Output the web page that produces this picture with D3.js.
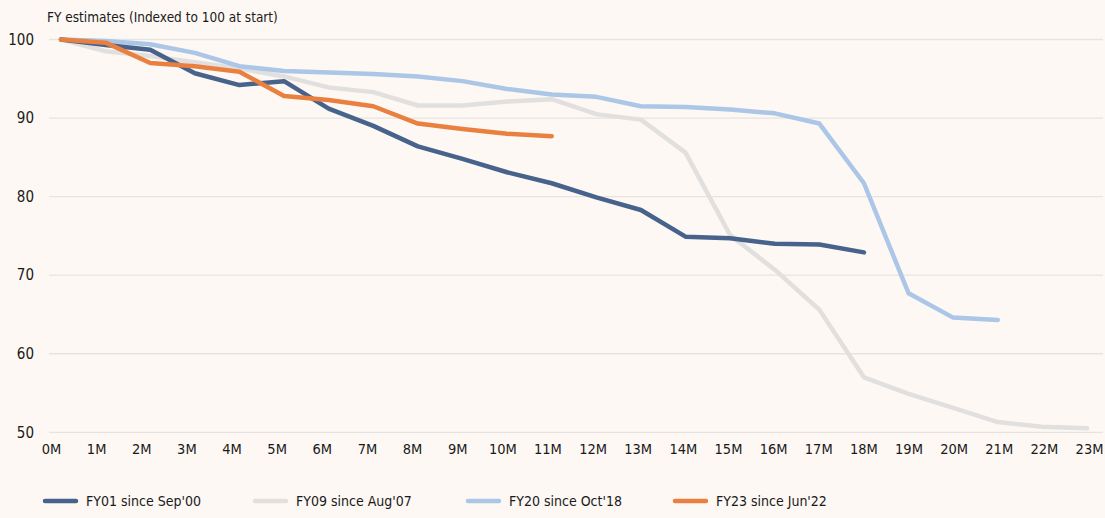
<!DOCTYPE html>
<html>
<head>
<meta charset="utf-8">
<script src="https://cdn.jsdelivr.net/npm/d3@7"></script>
<style>
  body { margin: 0; background: #fdf8f4; }
  #chart text { font-family: "DejaVu Sans Condensed", "Liberation Sans Narrow", sans-serif; fill: #1a1a1a; }
</style>
</head>
<body>
<div id="chart"></div>
<script>
// months since start
const months = d3.range(0, 24).map((m) => m + "M");
const yTicks = [50, 60, 70, 80, 90, 100];

// FY estimates, indexed to 100 at start
const fy01 = [100, 99.3, 98.7, 95.7, 94.2, 94.7, 91.2, 89.0, 86.4, 84.8, 83.1, 81.7, 79.9, 78.3, 74.9, 74.7, 74.0, 73.9, 72.9];
const fy09 = [100, 98.5, 97.9, 97.1, 96.3, 95.3, 93.9, 93.3, 91.6, 91.6, 92.1, 92.4, 90.5, 89.8, 85.6, 75.1, 70.7, 65.6, 57.0, 54.9, 53.1, 51.3, 50.7, 50.5];
const fy20 = [100, 99.8, 99.4, 98.3, 96.6, 96.0, 95.8, 95.6, 95.3, 94.7, 93.7, 93.0, 92.7, 91.5, 91.4, 91.1, 90.6, 89.3, 81.7, 67.7, 64.6, 64.3];
const fy23 = [100, 99.6, 97.0, 96.6, 95.9, 92.8, 92.3, 91.5, 89.3, 88.6, 88.0, 87.7];

const seriesNames = ["FY01 since Sep'00", "FY09 since Aug'07", "FY20 since Oct'18", "FY23 since Jun'22"];
const seriesColors = ["#47628b", "#e1e0df", "#abc6e7", "#ea8040"];

const width = 1105, height = 518;

const svg = d3.select("#chart").append("svg")
  .attr("width", width)
  .attr("height", height);

svg.append("rect").attr("width", width).attr("height", height).attr("fill", "#fdf8f4");

const x = d3.scalePoint().domain(months).range([61, 1087]);
// labels sit on a slightly wider spread than the points
const xLabel = d3.scalePoint().domain(months).range([51, 1089]);
const y = d3.scaleLinear().domain([50, 100]).range([432.3, 39.5]);

// gridlines
svg.append("g")
  .selectAll("line")
  .data(yTicks)
  .join("line")
  .attr("x1", 49)
  .attr("x2", 1103)
  .attr("y1", (d) => y(d))
  .attr("y2", (d) => y(d))
  .attr("stroke", "#e7e3e0")
  .attr("stroke-width", 1.3);

// y axis labels
const yAxis = svg.append("g")
  .attr("transform", "translate(34,0)")
  .call(d3.axisLeft(y).tickValues(yTicks).tickSize(0).tickPadding(0));
yAxis.select(".domain").remove();
yAxis.selectAll("text").style("font-size", "15px").attr("dy", "0.32em");

// x axis labels
const xAxis = svg.append("g")
  .attr("transform", "translate(0,444)")
  .call(d3.axisBottom(xLabel).tickSize(0).tickPadding(0));
xAxis.select(".domain").remove();
xAxis.selectAll("text").style("font-size", "14.5px").attr("dy", "0.71em");

// title
svg.append("text")
  .attr("x", 47)
  .attr("y", 22)
  .style("font-size", "13.5px")
  .text("FY estimates  (Indexed to 100 at start)");

const line = d3.line()
  .x((d, i) => x(months[i]))
  .y((d) => y(d));

// draw order: grey underneath, then light blue, dark blue, orange
const drawOrder = [1, 2, 0, 3];
const allSeries = [fy01, fy09, fy20, fy23];

svg.append("g")
  .selectAll("path")
  .data(drawOrder)
  .join("path")
  .attr("d", (k) => line(allSeries[k]))
  .attr("fill", "none")
  .attr("stroke", (k) => seriesColors[k])
  .attr("stroke-width", 4.5)
  .attr("stroke-linejoin", "round")
  .attr("stroke-linecap", "round");

// legend
const legendX = [45, 255, 468, 675];
const legend = svg.append("g")
  .selectAll("g")
  .data(seriesNames)
  .join("g")
  .attr("transform", (d, i) => "translate(" + legendX[i] + ",501)");

legend.append("line")
  .attr("x1", 0)
  .attr("x2", 31)
  .attr("stroke", (d, i) => seriesColors[i])
  .attr("stroke-width", 4.5)
  .attr("stroke-linecap", "round");

legend.append("text")
  .attr("x", 41)
  .attr("dy", "0.35em")
  .style("font-size", "14px")
  .text((d) => d);
</script>
</body>
</html>
